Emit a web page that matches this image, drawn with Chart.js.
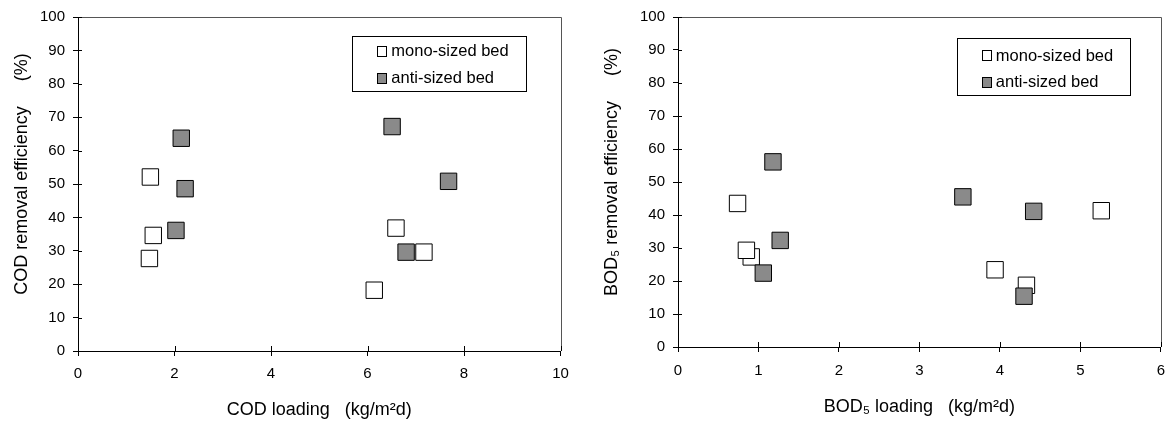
<!DOCTYPE html>
<html><head><meta charset="utf-8">
<script src="https://cdn.jsdelivr.net/npm/chart.js@4"></script>
<style>
html,body{margin:0;padding:0;background:#fff;overflow:hidden}
#wrap{position:relative;width:1175px;height:425px;background:#fff}
.c{position:absolute;top:0}
</style></head><body>
<div id="wrap">
<canvas id="cod" class="c" style="left:0" width="590" height="425"></canvas>
<canvas id="bod" class="c" style="left:590px" width="585" height="425"></canvas>
</div>
<script>
// ---- data ----
const seriesNames = ['mono-sized bed', 'anti-sized bed'];

const codMonoX = [1.50, 1.56, 1.48, 6.59, 7.17, 6.14];
const codMonoY = [52.1, 34.6, 27.7, 36.8, 29.6, 18.2];
const codAntiX = [2.14, 2.22, 2.03, 6.51, 7.68, 6.80];
const codAntiY = [63.7, 48.6, 36.1, 67.2, 50.8, 29.6];

const bodMonoX = [0.74, 0.91, 0.85, 3.94, 4.33, 5.26];
const bodMonoY = [43.5, 27.3, 29.3, 23.4, 18.7, 41.3];
const bodAntiX = [1.18, 1.27, 1.06, 3.54, 4.42, 4.30];
const bodAntiY = [56.1, 32.3, 22.4, 45.5, 41.1, 15.4];

const yTicks = [0, 10, 20, 30, 40, 50, 60, 70, 80, 90, 100];
const codXTicks = [0, 2, 4, 6, 8, 10];
const bodXTicks = [0, 1, 2, 3, 4, 5, 6];

const codTitles = {x: 'COD loading   (kg/m\u00B2d)', y: '    COD removal efficiency     (%)'};
const bodTitles = {x: 'BOD\u2085 loading   (kg/m\u00B2d)', y: '    BOD\u2085 removal efficiency     (%)'};

// ---- styling ----
const FONT = "'Liberation Sans', Arial, sans-serif";
const fills = ['#ffffff', '#8a8a8a'];

function pts(xs, ys) { return xs.map((x, i) => ({x: x, y: ys[i]})); }

const framePlugin = {
  id: 'frame',
  beforeDatasetsDraw(chart) {
    const {ctx, chartArea: a} = chart;
    ctx.save();
    ctx.lineWidth = 1;
    ctx.strokeStyle = '#555';
    ctx.beginPath();
    ctx.moveTo(Math.round(a.left), Math.round(a.top) + 0.5);
    ctx.lineTo(Math.round(a.right) + 0.5, Math.round(a.top) + 0.5);
    ctx.lineTo(Math.round(a.right) + 0.5, Math.round(a.bottom));
    ctx.stroke();
    ctx.strokeStyle = '#000';
    const xs = chart.scales.x, ys = chart.scales.y;
    ys.ticks.forEach(t => {
      const py = Math.round(ys.getPixelForValue(t.value)) + 0.5;
      ctx.beginPath(); ctx.moveTo(a.left, py); ctx.lineTo(a.left + 4, py); ctx.stroke();
    });
    xs.ticks.forEach(t => {
      const px = Math.round(xs.getPixelForValue(t.value)) + 0.5;
      ctx.beginPath(); ctx.moveTo(px, a.bottom); ctx.lineTo(px, a.bottom - 5); ctx.stroke();
    });
    ctx.restore();
  },
  afterDatasetsDraw(chart, args, o) {
    const {ctx, chartArea: a} = chart;
    const bx = Math.round(a.left + o.dx) + 0.5, by = Math.round(a.top + o.dy) + 0.5;
    ctx.save();
    ctx.fillStyle = '#fff';
    ctx.fillRect(bx, by, o.w, o.h);
    ctx.strokeStyle = '#000';
    ctx.lineWidth = 1;
    ctx.strokeRect(bx, by, Math.round(o.w), Math.round(o.h));
    ctx.font = '16.5px ' + FONT;
    ctx.textBaseline = 'middle';
    ctx.textAlign = 'left';
    chart.data.datasets.forEach((ds, i) => {
      const cy = by + o.rows[i];
      const mx = Math.round(bx + o.mx) + 0.5, my = Math.round(cy - 5) + 0.5;
      ctx.fillStyle = ds.backgroundColor;
      ctx.fillRect(mx, my, 9, 10);
      ctx.strokeStyle = '#000';
      ctx.strokeRect(mx, my, 9, 10);
      ctx.fillStyle = '#000';
      ctx.fillText(ds.label, bx + o.tx, cy + 1);
    });
    ctx.restore();
  }
};

function makeChart(id, mono, anti, xMax, xStep, xTickVals, titles, L) {
  return new Chart(document.getElementById(id), {
    type: 'scatter',
    data: {
      datasets: [
        {label: seriesNames[0], data: mono, backgroundColor: fills[0], order: 2},
        {label: seriesNames[1], data: anti, backgroundColor: fills[1], order: 1}
      ]
    },
    options: {
      responsive: false,
      animation: false,
      events: [],
      elements: {point: {pointStyle: 'rect', radius: 11.6, borderWidth: 1, borderColor: '#000'}},
      layout: {padding: {left: 0, top: 13, right: L.padRight, bottom: 0}},
      plugins: {
        legend: {display: false},
        tooltip: {enabled: false},
        frame: L.legend
      },
      scales: {
        x: {
          type: 'linear', min: 0, max: xMax,
          afterBuildTicks: s => { s.ticks = xTickVals.map(v => ({value: v})); },
          afterFit: s => { s.height = L.xHeight; },
          grid: {display: true, drawOnChartArea: false, drawTicks: true, tickLength: 5, color: '#000'},
          border: {display: true, color: '#000', width: 1},
          ticks: {stepSize: xStep, maxRotation: 0, autoSkip: false, padding: L.xPad, color: '#000', font: {family: FONT, size: 15}},
          title: {display: true, text: titles.x, color: '#000', font: {family: FONT, size: 18}, padding: {top: 0, bottom: L.xTitlePad}}
        },
        y: {
          type: 'linear', min: 0, max: 100,
          afterBuildTicks: s => { s.ticks = yTicks.map(v => ({value: v})); },
          afterFit: s => { s.width = L.yWidth; },
          grid: {display: true, drawOnChartArea: false, drawTicks: true, tickLength: 5, color: '#000'},
          border: {display: true, color: '#000', width: 1},
          ticks: {stepSize: 10, autoSkip: false, padding: 8, color: '#000', font: {family: FONT, size: 15}},
          title: {display: true, text: titles.y, color: '#000', font: {family: FONT, size: 18}, padding: {top: 11, bottom: 0}}
        }
      }
    },
    plugins: [framePlugin]
  });
}

makeChart('cod', pts(codMonoX, codMonoY), pts(codAntiX, codAntiY), 10, 2, codXTicks, codTitles, {
  padRight: 29.5, xHeight: 74, yWidth: 78, xPad: 9, xTitlePad: 4,
  legend: {dx: 274, dy: 19.3, w: 174, h: 55, rows: [14.4, 41], mx: 24.4, tx: 38.8}
});
makeChart('bod', pts(bodMonoX, bodMonoY), pts(bodAntiX, bodAntiY), 6, 1, bodXTicks, bodTitles, {
  padRight: 8, xHeight: 78, yWidth: 88, xPad: 10, xTitlePad: 7,
  legend: {dx: 278.7, dy: 21.3, w: 173, h: 57, rows: [16.7, 43.4], mx: 24.3, tx: 38.3}
});
</script>
</body></html>
